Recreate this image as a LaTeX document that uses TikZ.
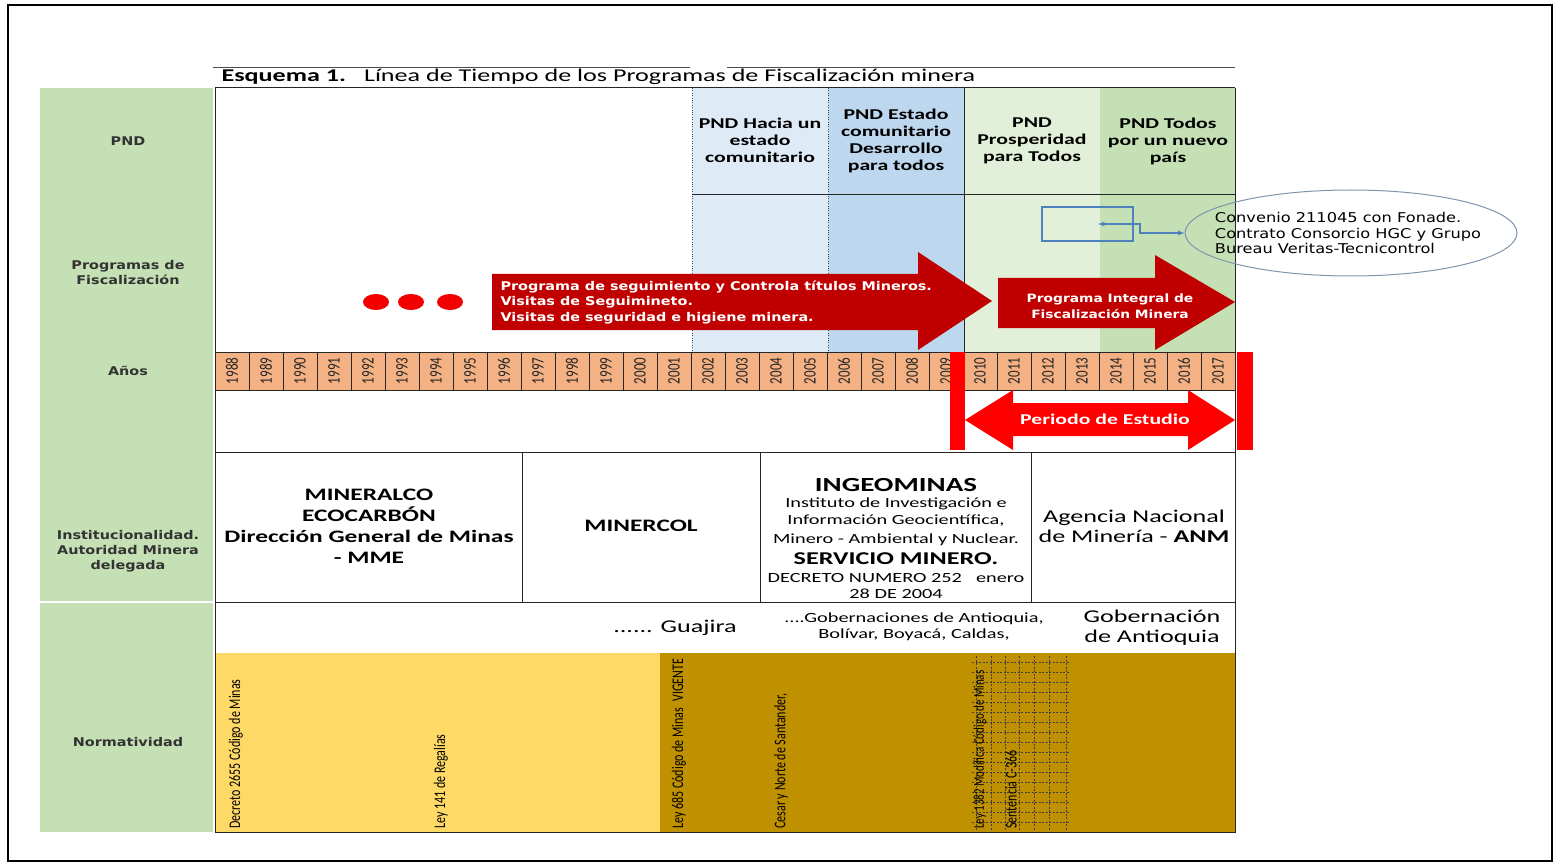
\documentclass[tikz,border=0pt]{standalone}
\usepackage{fontspec}
\setmainfont{Carlito}[FakeStretch=1.45]
\newfontfamily\plainfont{Carlito}
\newfontfamily\verd{DejaVu Sans}[FakeStretch=1.2]
\usetikzlibrary{shapes.geometric}

\definecolor{labelgreen}{HTML}{C5E0B4}
\definecolor{pndblueA}{HTML}{DEEBF7}
\definecolor{pndblueB}{HTML}{BDD7EE}
\definecolor{pndgreenA}{HTML}{E2F0D9}
\definecolor{pndgreenB}{HTML}{C5E0B4}
\definecolor{yearfill}{HTML}{F4B183}
\definecolor{normlight}{HTML}{FFD966}
\definecolor{normdark}{HTML}{BF9000}
\definecolor{progred}{HTML}{C00000}
\definecolor{periodred}{HTML}{FF0000}
\definecolor{boxblue}{HTML}{4F81BD}
\definecolor{ovalline}{HTML}{8094AE}

\tikzset{
    rowlabel/.style={font=\verd\bfseries\fontsize{12}{15}\selectfont, align=center, text=black!80},
    pndhead/.style={font=\bfseries\fontsize{15}{17}\selectfont, align=center},
    inst/.style={font=\bfseries\fontsize{17.5}{21}\selectfont, align=center},
    instsmall/.style={font=\fontsize{14}{15}\selectfont, inner sep=0pt},
    yearlabel/.style={rotate=90, yscale=1.35, font=\plainfont\fontsize{13}{13}\selectfont, inner sep=0pt, text=black!85},
    normlabel/.style={rotate=90, yscale=1.35, anchor=west, font=\plainfont\fontsize{12}{13}\selectfont, inner sep=0pt},
    tableline/.style={draw=black!85, line width=1pt},
    progtext/.style={font=\verd\bfseries\fontsize{12}{15.5}\selectfont, text=white},
    conn/.style={draw=boxblue, line width=1.2pt, >=latex}
}

\begin{document}
\begin{tikzpicture}[x=1pt,y=-1pt]
\useasboundingbox (0,0) rectangle (1554,866);
\draw[line width=2.5pt] (8,5) rectangle (1552,861);

\draw[black!70, line width=0.8pt] (213,67) -- (690,67) (727,67) -- (1235,67);
\node[anchor=west, font=\fontsize{18}{20}\selectfont] (title) at (218,77)
    {\textbf{Esquema 1.}\hspace{1em}Línea de Tiempo de los Programas de Fiscalización minera};

\fill[labelgreen] (40,88) rectangle (213,832);
\draw[white, line width=1.5pt] (40,602) -- (213,602);
\node[rowlabel] (lpnd) at (128,141) {PND};
\node[rowlabel] (lprog) at (128,273) {Programas de\\Fiscalización};
\node[rowlabel] (lanos) at (128,371) {Años};
\node[rowlabel] (linst) at (128,551) {Institucionalidad.\\Autoridad Minera\\delegada};
\node[rowlabel] (lnorm) at (128,742) {Normatividad};

\fill[pndblueA] (692,88) rectangle (828,352);
\fill[pndblueB] (828,88) rectangle (964,352);
\fill[pndgreenA] (964,88) rectangle (1100,352);
\fill[pndgreenB] (1100,88) rectangle (1235,352);
\fill[normlight] (215,653) rectangle (660,832);
\fill[normdark] (660,653) rectangle (1235,832);

\foreach \yr [count=\i from 0] in {1988,...,2017} {
    \fill[yearfill] (215+34*\i,352) rectangle ++(34,38);
    \draw[tableline] (215+34*\i,352) -- ++(0,38);
    \node[yearlabel] (y\yr) at (232+34*\i,371) {\yr};
}

\foreach \gx in {976,991,1005,1019,1034,1049,1066}
    \draw[black!75, dash pattern=on 2pt off 1.5pt, line width=0.6pt] (\gx,656) -- (\gx,830);
\foreach \gy in {662,672,...,822}
    \draw[black!75, dash pattern=on 2pt off 1.5pt, line width=0.6pt] (972,\gy) -- (1070,\gy);

\draw[dotted, black!70] (692,88) -- (692,352) (828,88) -- (828,352);
\draw[tableline] (964,88) -- (964,352) (692,195) -- (1235,195);
\draw[tableline] (215,88) -- (1235,88) (215,88) -- (215,832) -- (1235,832) -- (1235,88);
\draw[tableline] (215,352) -- (1235,352) (215,390) -- (1235,390) (215,452) -- (1235,452) (215,602) -- (1235,602);
\draw[tableline] (522,452) -- (522,602) (760,452) -- (760,602) (1031,452) -- (1031,602);

\node[pndhead] (pnd1) at (760,140) {PND Hacia un\\estado\\comunitario};
\node[pndhead] (pnd2) at (896,141) {PND Estado\\comunitario\\Desarrollo\\para todos};
\node[pndhead] (pnd3) at (1032,141) {PND\\Prosperidad\\para Todos};
\node[pndhead] (pnd4) at (1168,141) {PND Todos\\por un nuevo\\país};

\foreach \dx in {376,411,450}
    \fill[red!95!black] (\dx,302) ellipse (13 and 8);

\fill[progred] (492,274) -- (918,274) -- (918,252) -- (992,301) -- (918,350) -- (918,330) -- (492,330) -- cycle;
\node[progtext, anchor=west, align=left] (prog1) at (497,302)
    {Programa de seguimiento y Controla títulos Mineros.\\Visitas de Seguimineto.\\Visitas de seguridad e higiene minera.};
\fill[progred] (998,278) -- (1155,278) -- (1155,255) -- (1235,302) -- (1155,350) -- (1155,328) -- (998,328) -- cycle;
\node[progtext, align=center, font=\verd\bfseries\fontsize{11.5}{15.5}\selectfont] (prog2) at (1110,306) {Programa Integral de\\Fiscalización Minera};

\node[draw=boxblue, line width=2pt, minimum width=91pt, minimum height=34pt] (convbox) at (1087.5,224) {};
\node[ellipse, draw=ovalline, line width=1pt, minimum width=332pt, minimum height=86pt] (conv) at (1351,233) {};
\node[align=left, font=\verd\fontsize{13.5}{15.5}\selectfont] (convtext) at (1348,233)
    {Convenio 211045 con Fonade.\\Contrato Consorcio HGC y Grupo\\Bureau Veritas-Tecnicontrol};
\coordinate (convin) at (1098,224);
\coordinate (knee) at (1140,224);
\draw[conn, <->] (convin) -- (knee) |- (conv.west);

\fill[periodred] (950,352) rectangle (965,450);
\fill[periodred] (1237,352) rectangle (1253,450);
\fill[periodred] (965,420) -- (1013,390) -- (1013,403) -- (1188,403) -- (1188,390) -- (1235,420)
    -- (1188,450) -- (1188,436) -- (1013,436) -- (1013,450) -- cycle;
\node[white, font=\bfseries\fontsize{15}{18}\selectfont] (periodo) at (1105,419) {Periodo de Estudio};

\node[inst] (mineralco) at (369,526) {MINERALCO\\ECOCARBÓN\\Dirección General de Minas\\- MME};
\node[inst] (minercol) at (641,526) {MINERCOL};
\node[font=\bfseries\fontsize{20}{22}\selectfont] (ingeo) at (896,485) {INGEOMINAS};
\node[instsmall] (ingeo1) at (896,504) {Instituto de Investigación e};
\node[instsmall] (ingeo2) at (896,521) {Información Geocientífica,};
\node[instsmall] (ingeo3) at (896,540) {Minero - Ambiental y Nuclear.};
\node[font=\bfseries\fontsize{18}{20}\selectfont, inner sep=0pt] (servicio) at (896,559) {SERVICIO MINERO.};
\node[instsmall] (decreto) at (896,578) {DECRETO NUMERO 252\quad enero};
\node[instsmall] (decreto2) at (896,594) {28 DE 2004};
\node[font=\fontsize{18}{20}\selectfont, align=center] (anm) at (1134,526) {Agencia Nacional\\de Minería - \textbf{ANM}};

\node[font=\fontsize{18}{20}\selectfont] (guajira) at (675,628) {...... Guajira};
\node[font=\fontsize{14}{15.5}\selectfont, align=center] (gobs) at (914,627) {....Gobernaciones de Antioquia,\\Bolívar, Boyacá, Caldas,};
\node[font=\fontsize{18}{20}\selectfont, align=center] (gobant) at (1152,628) {Gobernación\\de Antioquia};

\node[normlabel] (dec2655) at (236,829) {Decreto 2655 Código de Minas};
\node[normlabel] (ley141) at (441,829) {Ley 141 de Regalías};
\node[normlabel] (ley685) at (679,829) {Ley 685 Código de Minas\enspace VIGENTE};
\node[normlabel] (cesar) at (781,829) {Cesar y Norte de Santander,};
\node[normlabel, font=\plainfont\fontsize{11}{12}\selectfont] (ley1382) at (980,829) {Ley 1382 Modifica Código de Minas};
\node[normlabel] (sentencia) at (1011,829) {Sentencia C-366};
\end{tikzpicture}
\end{document}
